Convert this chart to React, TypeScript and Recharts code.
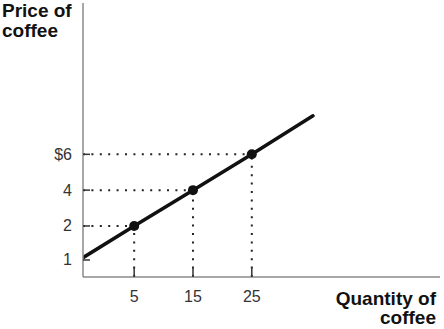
import React from 'react';
import { LineChart, Line, XAxis, YAxis, ReferenceLine } from 'recharts';

// Supply curve (quantity, price). First/last are the drawn ends of the line.
const quantities = [-3.7, 5, 15, 25, 35.4];
const prices = [0.23, 2, 4, 6, 8.15];
const marked = [false, true, true, true, false];

const xTicks = [5, 15, 25];
const yTicks = [0.1, 2, 4, 6];
const yTickLabels = ['1', '2', '4', '$6'];

const xDomain: [number, number] = [-3.7, 57];
const yDomain: [number, number] = [-0.85, 14.45];

const data = quantities.map((q, i) => ({ q, p: prices[i], mark: marked[i] }));
const markedPoints = data.filter((d) => d.mark);

const FONT = '"Liberation Sans", Arial, Helvetica, sans-serif';
const AXIS = '#8a8a8a';
const INK = '#111';

const YTick = (props: any) => {
  const { x, y, index } = props;
  return (
    <g>
      <line x1={x} x2={x + 7} y1={y} y2={y} stroke="#333" strokeWidth={1.5} />
      <text x={x - 11} y={y + 5.5} textAnchor="end" fontFamily={FONT} fontSize={16} fill="#333">
        {yTickLabels[index]}
      </text>
    </g>
  );
};

const XTick = (props: any) => {
  const { x, y, payload } = props;
  return (
    <g>
      <line x1={x} x2={x} y1={y} y2={y - 10} stroke="#333" strokeWidth={1.5} />
      <text x={x} y={y + 25} textAnchor="middle" fontFamily={FONT} fontSize={16} fill="#333">
        {payload.value}
      </text>
    </g>
  );
};

const Dot = (props: any) => {
  const { cx, cy, payload, index } = props;
  if (!payload || !payload.mark) return <g key={`d${index}`} />;
  return <circle key={`d${index}`} cx={cx} cy={cy} r={5} fill={INK} stroke="none" />;
};

export default function App() {
  return (
    <div style={{ position: 'absolute', left: 0, top: 0, width: 444, height: 329, background: '#fff' }}>
      <LineChart
        width={444}
        height={329}
        data={data}
        margin={{ top: 3, right: 4, bottom: 0, left: 0 }}
      >
        <XAxis
          dataKey="q"
          type="number"
          domain={xDomain}
          ticks={xTicks}
          allowDataOverflow
          height={52}
          tickSize={0}
          tickMargin={0}
          tickLine={false}
          axisLine={{ stroke: AXIS, strokeWidth: 1.5 }}
          tick={<XTick />}
          interval={0}
        />
        <YAxis
          type="number"
          domain={yDomain}
          ticks={yTicks}
          allowDataOverflow
          width={83}
          tickSize={0}
          tickMargin={0}
          tickLine={false}
          axisLine={{ stroke: AXIS, strokeWidth: 1.5 }}
          tick={<YTick />}
          interval={0}
        />
        {markedPoints.map((d, i) => (
          <ReferenceLine
            key={`h${i}`}
            segment={[{ x: xDomain[0], y: d.p }, { x: d.q, y: d.p }]}
            stroke="#222"
            strokeWidth={2}
            strokeDasharray="2 6.4"
          />
        ))}
        {markedPoints.map((d, i) => (
          <ReferenceLine
            key={`v${i}`}
            segment={[{ x: d.q, y: yDomain[0] }, { x: d.q, y: d.p }]}
            stroke="#222"
            strokeWidth={2}
            strokeDasharray="2 6.4"
          />
        ))}
        <Line
          type="linear"
          dataKey="p"
          stroke={INK}
          strokeWidth={3.5}
          strokeLinecap="round"
          dot={<Dot />}
          activeDot={false}
          isAnimationActive={false}
        />
      </LineChart>
      <div
        style={{
          position: 'absolute',
          left: 2,
          top: 1,
          fontFamily: FONT,
          fontWeight: 'bold',
          fontSize: 19,
          lineHeight: '20px',
          color: INK,
        }}
      >
        Price of
        <br />
        coffee
      </div>
      <div
        style={{
          position: 'absolute',
          right: 8,
          top: 289,
          fontFamily: FONT,
          fontWeight: 'bold',
          fontSize: 19,
          lineHeight: '19px',
          color: INK,
          textAlign: 'right',
        }}
      >
        Quantity of
        <br />
        coffee
      </div>
    </div>
  );
}
